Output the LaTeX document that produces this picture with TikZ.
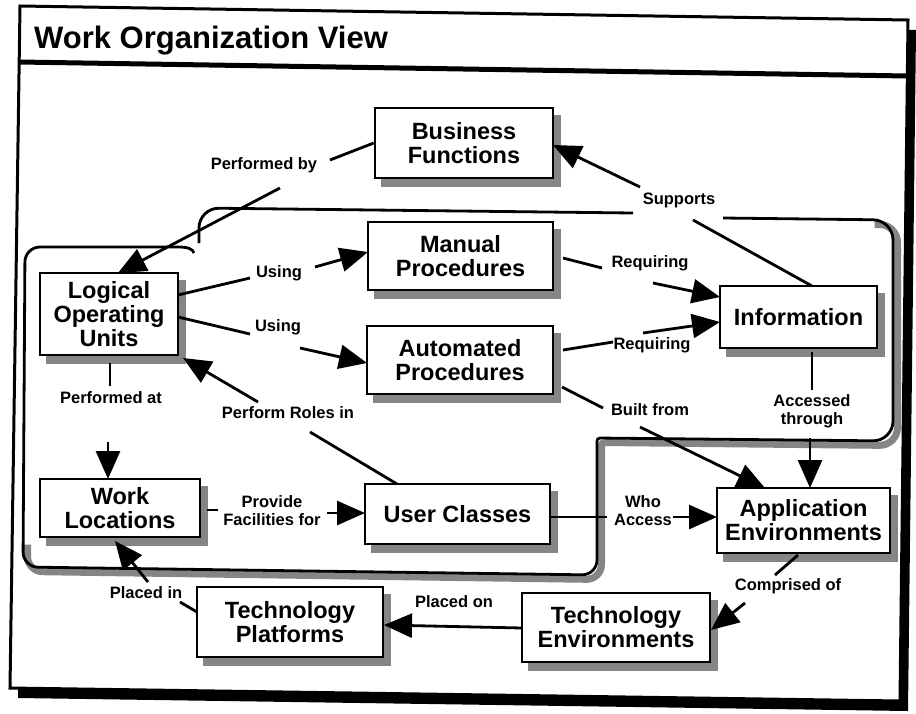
\documentclass[tikz,border=0pt]{standalone}
\usepackage{fontspec}
\setmainfont{Liberation Sans}
\usetikzlibrary{arrows.meta,backgrounds}
\begin{document}
\begin{tikzpicture}[x=1pt,y=-1pt,
  box/.style={draw, line width=2.6pt, fill=white, align=center, inner sep=0pt, font=\bfseries\fontsize{23.5}{24}\selectfont},
  lbl/.style={align=center, inner sep=0pt, font=\bfseries\fontsize{16.5}{18}\selectfont},
  conn/.style={line width=2.8pt},
  arr/.style={line width=2.8pt, -{Triangle[length=28pt,width=24pt]}},
  shade/.style={fill=black!48},
  encl/.style={line width=2.8pt},
]
\useasboundingbox (0,0) rectangle (916,713);
% frame
\begin{scope}[on background layer]
 \fill (28,16) -- (916,30) -- (908,711) -- (18,698) -- cycle;
 \fill[white] (20,6) -- (908,20) -- (900,701) -- (10,688) -- cycle;
 \draw[line width=3pt] (20,6) -- (908,20) -- (900,701) -- (10,688) -- cycle;
 \draw[line width=5pt] (19,62) -- (908,76);
 % enclosure shadow
 \draw[line width=7pt, black!48, shift={(4.5,4.5)}]
   (870,220) [rounded corners=18pt] -- (893,220) -- (893,441) [rounded corners=3pt] -- (597,438) [rounded corners=15pt] -- (597,575) -- (23,567) -- (23,540);
\end{scope}
\node[anchor=base west, inner sep=0pt, font=\bfseries\fontsize{31}{31}\selectfont] (title) at (34,48) {Work Organization View};

% enclosure
\draw[encl, rounded corners=20pt] (199,243) -- (199,208) -- (633,213);
\draw[encl] (723,218) [rounded corners=20pt] -- (893,220) -- (893,441) [rounded corners=3pt] -- (597,438) [rounded corners=15pt] -- (597,575) -- (23,567) -- (25,247) [sharp corners] -- (178,247) .. controls (188,247) and (193,249) .. (194,253);

% boxes
\node[box, minimum width=178pt, minimum height=70pt] (bf) at (464,143) {Business\\Functions};
\node[box, minimum width=138pt, minimum height=82pt] (lou) at (109,314) {Logical\\Operating\\Units};
\node[box, minimum width=185pt, minimum height=68pt] (man) at (460.5,256) {Manual\\Procedures};
\node[box, minimum width=186pt, minimum height=68pt] (aut) at (460,360) {Automated\\Procedures};
\node[box, minimum width=157pt, minimum height=62pt] (inf) at (798.5,317) {Information};
\node[box, minimum width=160pt, minimum height=58pt] (wl) at (120,508) {Work\\Locations};
\node[box, minimum width=185pt, minimum height=60pt] (uc) at (457.5,514) {User Classes};
\node[box, minimum width=173pt, minimum height=65pt] (ae) at (803.5,520.5) {Application\\Environments};
\node[box, minimum width=186pt, minimum height=70pt] (tp) at (290,622) {Technology\\Platforms};
\node[box, minimum width=188pt, minimum height=69pt] (te) at (616,627.5) {Technology\\Environments};

\begin{scope}[on background layer]
\foreach \n in {bf,lou,man,aut,inf,wl,uc,ae,tp,te}
  \fill[shade] ([shift={(7,8)}]\n.north west) rectangle ([shift={(7,8)}]\n.south east);
\end{scope}

% labels
\node[lbl] (p1) at (264,165) {Performed by};
\node[lbl] (u1) at (279,273) {Using};
\node[lbl] (u2) at (278,327) {Using};
\node[lbl] (pr) at (288,413) {Perform Roles in};
\node[lbl] (pa) at (111,398) {Performed at};
\node[lbl] (pf) at (272,511) {Provide\\Facilities for};
\node[lbl] (wa) at (643,511) {Who\\Access};
\node[lbl] (bfm) at (650,410) {Built from};
\node[lbl] (acc) at (812,411) {Accessed\\through};
\node[lbl] (rq1) at (650,263) {Requiring};
\node[lbl] (rq2) at (652,345) {Requiring};
\node[lbl] (sup) at (679,200) {Supports};
\node[lbl] (co) at (788,586) {Comprised of};
\node[lbl] (pon) at (454,602) {Placed on};
\node[lbl] (pin) at (146,593) {Placed in};

% connectors
\draw[conn] (bf.west) -- ([shift={(66,-5)}]p1.center);
\draw[arr] ([shift={(16,23)}]p1.center) -- ([shift={(9,-41)}]lou.center);
\draw[conn] ([shift={(69,-19)}]lou.center) -- ([shift={(-29,5)}]u1.center);
\draw[arr] ([shift={(36,-6)}]u1.center) -- ([shift={(-92.5,-4)}]man.center);
\draw[conn] ([shift={(69,3)}]lou.center) -- ([shift={(-28,7)}]u2.center);
\draw[arr] ([shift={(22,21)}]u2.center) -- ([shift={(-93,3)}]aut.center);
\draw[conn] ([shift={(-60.5,-30)}]uc.center) -- ([shift={(22,19)}]pr.center);
\draw[arr] ([shift={(-30,-11)}]pr.center) -- ([shift={(74,44)}]lou.center);
\draw[conn] ([shift={(1,49)}]lou.center) -- ([shift={(-1,-12)}]pa.center);
\draw[arr] ([shift={(-3,44)}]pa.center) -- ([shift={(-12,-29)}]wl.center);
\draw[conn] ([shift={(87,2)}]wl.center) -- ([shift={(-54,-1)}]pf.center);
\draw[arr] ([shift={(55,2)}]pf.center) -- ([shift={(-92.5,-1)}]uc.center);
\draw[conn] ([shift={(92.5,3)}]uc.center) -- ([shift={(-36,6)}]wa.center);
\draw[arr] ([shift={(30,6)}]wa.center) -- ([shift={(-86.5,-3.5)}]ae.center);
\draw[conn] ([shift={(102,27)}]aut.center) -- ([shift={(-47,-2)}]bfm.center);
\draw[arr] ([shift={(-10,17)}]bfm.center) -- ([shift={(-38.5,-32.5)}]ae.center);
\draw[conn] ([shift={(13.5,35)}]inf.center) -- ([shift={(0,-21)}]acc.center);
\draw[arr] ([shift={(-2,27)}]acc.center) -- ([shift={(6.5,-32.5)}]ae.center);
\draw[conn] ([shift={(102.5,2)}]man.center) -- ([shift={(-48,5)}]rq1.center);
\draw[arr] ([shift={(3,20)}]rq1.center) -- ([shift={(-78.5,-20)}]inf.center);
\draw[conn] ([shift={(103,-10)}]aut.center) -- ([shift={(-39,-3)}]rq2.center);
\draw[arr] ([shift={(-9,-12)}]rq2.center) -- ([shift={(-78.5,5)}]inf.center);
\draw[conn] ([shift={(13.5,-31)}]inf.center) -- ([shift={(14,20)}]sup.center);
\draw[arr] ([shift={(-39,-13)}]sup.center) -- ([shift={(89,2)}]bf.center);
\draw[conn] ([shift={(-5.5,34.5)}]ae.center) -- ([shift={(-13,-11)}]co.center);
\draw[arr] ([shift={(-43,17)}]co.center) -- ([shift={(95,2.5)}]te.center);
\draw[arr] ([shift={(-94,0.5)}]te.center) -- ([shift={(94,3)}]tp.center);
\draw[conn] ([shift={(-93,-10)}]tp.center) -- ([shift={(34,9)}]pin.center);
\draw[arr] ([shift={(2,-11)}]pin.center) -- ([shift={(-5,33)}]wl.center);
\end{tikzpicture}
\end{document}
